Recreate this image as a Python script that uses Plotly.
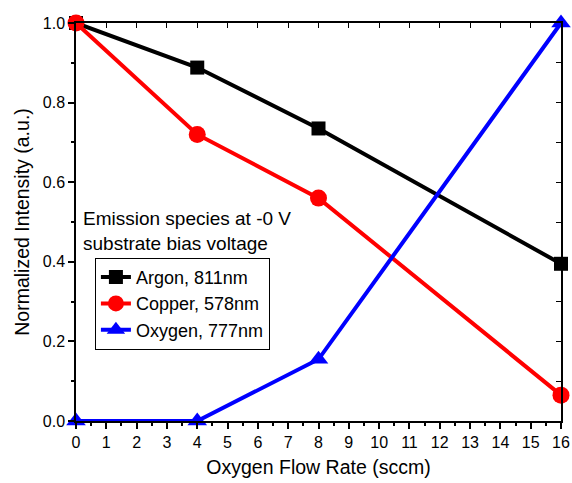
import plotly.graph_objects as go

flow = [0, 4, 8, 16]
argon = [1.0, 0.888, 0.735, 0.395]
copper = [1.0, 0.72, 0.56, 0.065]
oxygen = [0.0, 0.0, 0.155, 1.0]

series = [
    ("Argon, 811nm", argon, "black", "square"),
    ("Copper, 578nm", copper, "red", "circle"),
    ("Oxygen, 777nm", oxygen, "blue", "triangle-up"),
]

fig = go.Figure()
for name, vals, col, sym in series:
    fig.add_trace(go.Scatter(
        x=flow, y=vals, name=name, mode="lines+markers",
        line=dict(color=col, width=4),
        marker=dict(color=col, symbol=sym, size=17 if sym != "square" else 14),
        cliponaxis=False,
    ))

font = dict(family="Liberation Sans, Arial, sans-serif", color="black")
axis_common = dict(showgrid=False, zeroline=False, showline=True, linecolor="black",
                   linewidth=1.5, ticks="outside", ticklen=6, tickwidth=1.5, tickcolor="black",
                   tickfont=dict(size=16, **font), automargin=False)

fig.update_layout(
    width=572, height=483,
    margin=dict(l=76, r=11, t=23, b=62),
    plot_bgcolor="white", paper_bgcolor="white",
    font=font,
    showlegend=True,
    legend=dict(x=0.039, y=0.41, xanchor="left", yanchor="top",
                bordercolor="black", borderwidth=1, bgcolor="white",
                font=dict(size=18, **font), tracegroupgap=0,
                itemwidth=30),
    xaxis=dict(range=[0, 16], dtick=1, tick0=0,
               minor=dict(ticks="outside", ticklen=3, tickwidth=1.5, tickcolor="black", dtick=0.5),
               title=dict(text="Oxygen Flow Rate (sccm)", font=dict(size=19.5, **font), standoff=10),
               **axis_common),
    yaxis=dict(range=[0, 1.0], dtick=0.2, tick0=0, tickformat=".1f",
               minor=dict(ticks="outside", ticklen=3, tickwidth=1.5, tickcolor="black", dtick=0.1),
               title=dict(text="Normalized Intensity (a.u.)", font=dict(size=19.5, **font), standoff=8),
               **axis_common),
    xaxis2=dict(overlaying="x", side="top", range=[0, 16], dtick=1, showgrid=False, zeroline=False,
                showline=True, linecolor="black", linewidth=1.5, ticks="inside", ticklen=5,
                tickwidth=1, tickcolor="black", showticklabels=False, automargin=False),
    yaxis2=dict(overlaying="y", side="right", range=[0, 1.0], dtick=0.1, showgrid=False, zeroline=False,
                showline=True, linecolor="black", linewidth=1.5, ticks="inside", ticklen=5,
                tickwidth=1, tickcolor="black", showticklabels=False, automargin=False),
)
# invisible trace to activate the mirrored axes
fig.add_trace(go.Scatter(x=[None], y=[None], xaxis="x2", yaxis="y2", showlegend=False, hoverinfo="skip"))

fig.add_annotation(
    text="Emission species at -0 V<br>substrate bias voltage",
    xref="paper", yref="paper", x=0.01, y=0.54, xanchor="left", yanchor="top",
    showarrow=False, align="left", font=dict(size=19, **font),
)

fig.write_html("out.html")
